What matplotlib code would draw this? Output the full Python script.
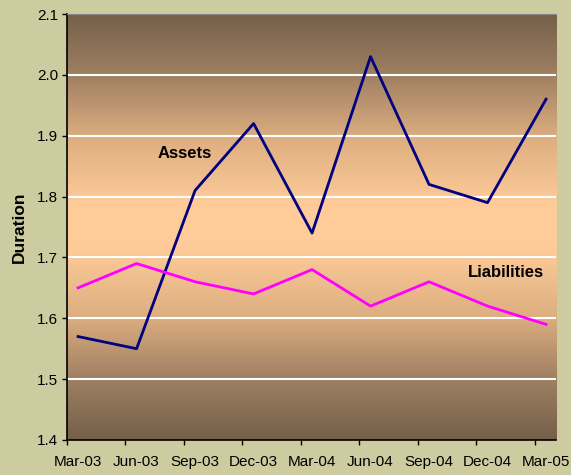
import matplotlib.pyplot as plt
import numpy as np
from matplotlib.colors import LinearSegmentedColormap

plt.rcParams['font.family'] = ['Liberation Sans', 'DejaVu Sans']

# data
quarters = ["Mar-03", "Jun-03", "Sep-03", "Dec-03", "Mar-04",
            "Jun-04", "Sep-04", "Dec-04", "Mar-05"]
assets = [1.57, 1.55, 1.81, 1.92, 1.74, 2.03, 1.82, 1.79, 1.96]
liabilities = [1.65, 1.69, 1.66, 1.64, 1.68, 1.62, 1.66, 1.62, 1.59]
yticks = [1.4, 1.5, 1.6, 1.7, 1.8, 1.9, 2.0, 2.1]

fig = plt.figure(figsize=(5.71, 4.75), dpi=100, facecolor="#CCCCA0")
ax = fig.add_axes([0.1173, 0.0737, 0.8564, 0.8968])

x = np.arange(len(quarters))
xlo, xhi = -0.19, 8.17

# brown -> peach -> brown gradient behind the plot
stops = [(0.0, "#75604A"), (0.14, "#9E7F62"), (0.29, "#DDAE80"), (0.45, "#FFCC99"),
         (0.55, "#FFCC99"), (0.71, "#DDAE80"), (0.86, "#9E7F62"), (1.0, "#75604A")]
grad = LinearSegmentedColormap.from_list("bg", stops)
ax.imshow(np.linspace(0, 1, 256).reshape(-1, 1), cmap=grad, aspect="auto",
          extent=[xlo, xhi, 1.4, 2.1], zorder=0, interpolation="bicubic")

for yv in yticks[1:-1]:
    ax.axhline(yv, color="white", lw=1.5, zorder=1)

ax.plot(x, assets, color="#000080", lw=2, zorder=3)
ax.plot(x, liabilities, color="#FF00FF", lw=2, zorder=3)

ax.text(1.83, 1.871, "Assets", fontsize=12, fontweight="bold", ha="center", va="center", zorder=4)
ax.text(7.32, 1.676, "Liabilities", fontsize=12, fontweight="bold", ha="center", va="center", zorder=4)

ax.set_xlim(xlo, xhi)
ax.set_ylim(1.4, 2.1)
ax.set_yticks(yticks)
ax.set_yticklabels([f"{v:.1f}" for v in yticks], fontsize=11)

# tick marks sit a bit left of each point, labels under the points
ax.set_xticks(x + xlo)
ax.set_xticklabels([])
ax.set_xticks(x, minor=True)
ax.set_xticklabels(quarters, minor=True, fontsize=11)
ax.tick_params(axis="x", which="major", direction="out", length=3.5, width=1)
ax.tick_params(axis="x", which="minor", length=0, pad=11)
ax.tick_params(axis="y", direction="out", length=3.5, width=1, pad=3)

ax.set_ylabel("Duration", fontsize=12.5, fontweight="bold", labelpad=7)

ax.spines["right"].set_visible(False)
ax.spines["top"].set_color("#888888")
ax.spines["left"].set_linewidth(1.2)
ax.spines["bottom"].set_linewidth(1.2)

fig.savefig("out.png", dpi=100, facecolor=fig.get_facecolor())
